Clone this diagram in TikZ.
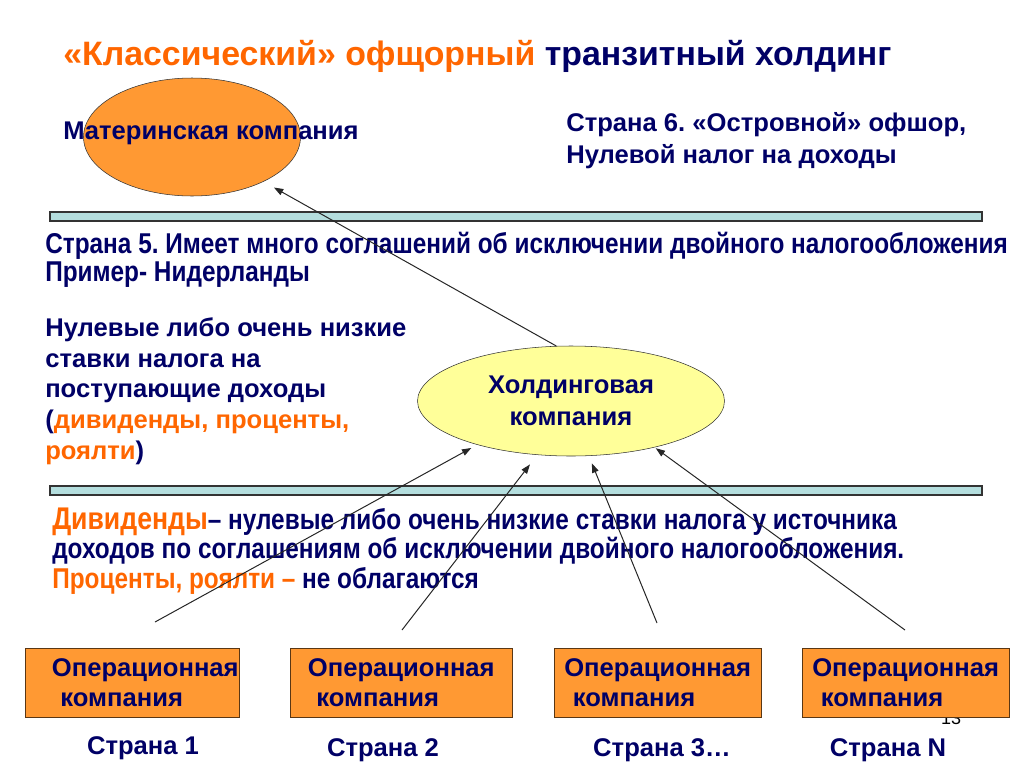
\documentclass[tikz,border=0pt]{standalone}
\usepackage{fontspec}
\setmainfont{Liberation Sans}
\newfontfamily\narrowfont{Liberation Sans}[FakeStretch=0.85]
\usetikzlibrary{positioning,arrows.meta,shapes.geometric}
\definecolor{navy}{RGB}{0,0,102}
\definecolor{hot}{RGB}{255,102,0}
\definecolor{orangefill}{RGB}{255,153,51}
\definecolor{softyellow}{RGB}{255,255,153}
\definecolor{barfill}{RGB}{180,222,222}
\definecolor{edge}{RGB}{90,55,20}
\tikzset{
  txt/.style={font=\bfseries\fontsize{19.2}{23}\selectfont, text=navy, align=left, inner sep=0pt},
  narrow/.style={font=\narrowfont\bfseries\fontsize{21.5}{21}\selectfont, text=navy, align=left, inner sep=0pt},
  headline/.style={font=\bfseries\fontsize{25.4}{28}\selectfont, text=navy, inner sep=0pt},
  opbox/.style={txt, draw=edge, fill=orangefill, minimum height=51.75pt, anchor=north west,
                inner xsep=7.5pt, text width=140pt},
  bar/.style={draw=black!80, fill=barfill, line width=0.8pt},
  conn/.style={draw=black!85, line width=0.75pt, -{Triangle[length=7pt,width=5pt]}, shorten >=5pt}
}

\begin{document}
\frenchspacing
\begin{tikzpicture}[x=0.75pt, y=-0.75pt]
  \useasboundingbox (0,0) rectangle (1024,768);

  \node[headline, anchor=base west] (title) at (63,65)
    {\textcolor{hot}{«Классический» офщорный} транзитный\ холдинг};

  \node[ellipse, draw=black!80, fill=orangefill, minimum width=162.75pt, minimum height=88.5pt] (mother) at (192,137) {};
  \node[txt, anchor=west] (mothertxt) at (63,133) {Материнская компания};
  \node[txt, anchor=west, font=\bfseries\fontsize{19.2}{24}\selectfont] (island) at (566,141)
    {Страна 6. «Островной» офшор,\\Нулевой налог на доходы};

  \draw[bar] (50,212) rectangle (982,221);
  \node[narrow, anchor=west] (treaty) at (45,260)
    {Страна 5. Имеет много соглашений об исключении двойного налогообложения\\Пример- Нидерланды};

  \node[txt, anchor=west] (lowtax) at (45,391)
    {Нулевые либо очень низкие\\ставки налога на\\поступающие доходы\\(\textcolor{hot}{дивиденды, проценты,}\\\textcolor{hot}{роялти})};

  \node[ellipse, draw=black!80, fill=softyellow, minimum width=230.25pt, minimum height=82.5pt,
        txt, align=center, font=\bfseries\fontsize{19.2}{24}\selectfont] (hold) at (571,401) {Холдинговая\\компания};

  \draw[bar] (50,486) rectangle (982,495);
  \node[narrow, anchor=west, font=\narrowfont\bfseries\fontsize{21.5}{22}\selectfont] (dividends) at (52,551)
    {{\fontsize{23.5}{22}\selectfont\textcolor{hot}{Дивиденды}}– нулевые либо очень низкие ставки налога у источника\\
     доходов по соглашениям об исключении двойного налогообложения.\\
     \textcolor{hot}{Проценты, роялти –} не облагаются};

  \node[font=\fontsize{13.5}{14}\selectfont, inner sep=0pt] (pagenum) at (951,718) {13};

  \node[opbox, minimum width=160.5pt, inner xsep=20pt, text width=120.5pt] (op1) at (25,648) {Операционная\\~компания};
  \node[opbox, minimum width=166.5pt] (op2) at (290,648) {Операционная\\~компания};
  \node[opbox, minimum width=153.75pt] (op3) at (554,648) {Операционная\\~компания};
  \node[opbox, minimum width=153pt] (op4) at (802,648) {Операционная\\~компания};

  \node[txt] (c1) at (143,748) {Страна 1};
  \node[txt] (c2) at (383,750) {Страна 2};
  \node[txt] (c3) at (662,750) {Страна 3…};
  \node[txt] (c4) at (888,750) {Страна N};

  \coordinate (s1) at (155,622);
  \coordinate (s2) at (402,630);
  \coordinate (s3) at (657,623);
  \coordinate (s4) at (905,630);

  \draw[conn, shorten >=9pt] (hold.105) -- (mother.-32);
  \draw[conn] (s1) -- (hold.-155);
  \draw[conn, shorten >=9pt] (s2) -- (hold.-122);
  \draw[conn, shorten >=6pt] (s3) -- (hold.-72);
  \draw[conn, shorten >=1pt] (s4) -- (hold.-29);
\end{tikzpicture}
\end{document}
